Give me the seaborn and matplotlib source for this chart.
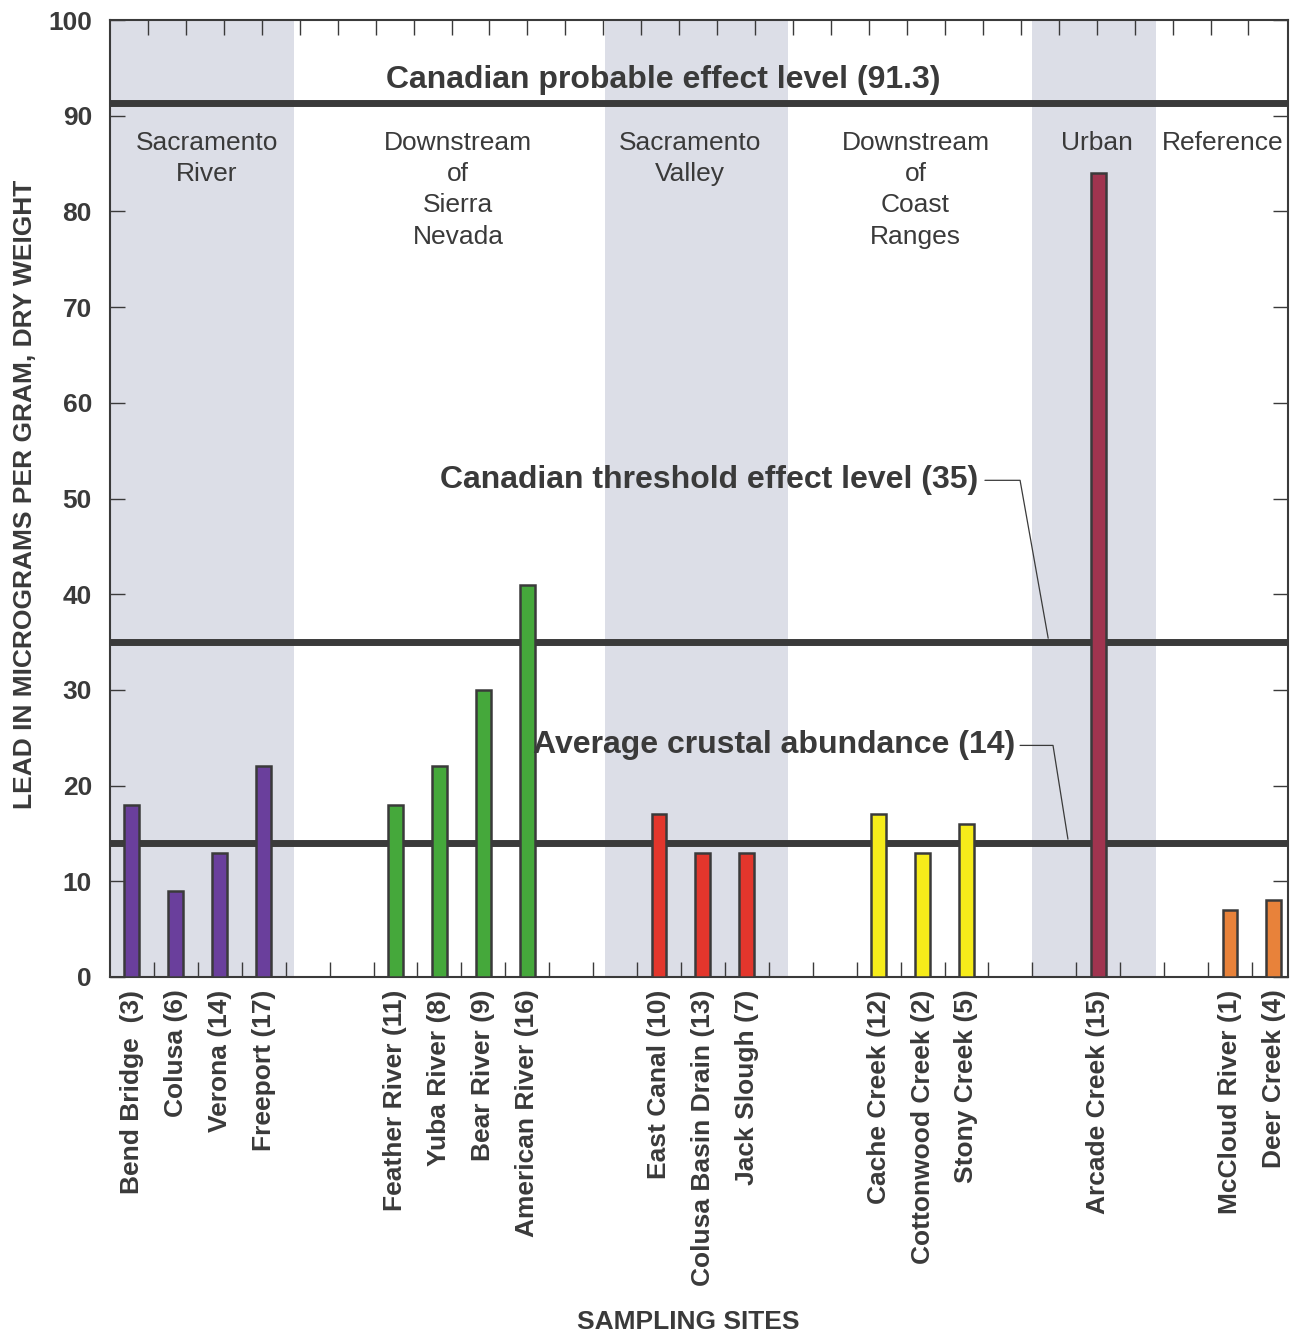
import numpy as np
import pandas as pd
import seaborn as sns
import matplotlib.pyplot as plt

# Lead in bed sediment, by sampling site
sites = ['Bend Bridge  (3)', 'Colusa (6)', 'Verona (14)', 'Freeport (17)',
         'Feather River (11)', 'Yuba River (8)', 'Bear River (9)', 'American River (16)',
         'East Canal (10)', 'Colusa Basin Drain (13)', 'Jack Slough (7)',
         'Cache Creek (12)', 'Cottonwood Creek (2)', 'Stony Creek (5)',
         'Arcade Creek (15)',
         'McCloud River (1)', 'Deer Creek (4)']
lead = [18, 9, 13, 22,
        18, 22, 30, 41,
        17, 13, 13,
        17, 13, 16,
        84,
        7, 8]

group_names = ['Sacramento River', 'Downstream of Sierra Nevada', 'Sacramento Valley',
               'Downstream of Coast Ranges', 'Urban', 'Reference']
group_titles = ['Sacramento\nRiver', 'Downstream\nof\nSierra\nNevada', 'Sacramento\nValley',
                'Downstream\nof\nCoast\nRanges', 'Urban', 'Reference']
group_sizes = [4, 4, 3, 3, 1, 2]
group_colors = ['#6a3f9c', '#45a83b', '#e3362c', '#f6ec1a', '#a0344f', '#e8823a']

guide_values = [91.3, 35, 14]
guide_labels = ['Canadian probable effect level (91.3)',
                'Canadian threshold effect level (35)',
                'Average crustal abundance (14)']

# layout: first slot of each group along the axis, shaded groups
group_start = [0, 6, 12, 17, 22, 25]
group_title_x = [1.7, 7.43, 12.7, 17.84, 21.98, 24.84]
shade_spans = [(-0.5, 3.7), (10.77, 14.93), (20.5, 23.32)]

site_group = []
positions = []
for g, n in enumerate(group_sizes):
    site_group += [group_names[g]] * n
    positions += [group_start[g] + i for i in range(n)]

df = pd.DataFrame({'site': sites, 'lead': lead, 'group': site_group, 'pos': positions})

sns.set_theme(style='ticks')
plt.rcParams['font.family'] = ['Liberation Sans', 'DejaVu Sans']
ink = '#3a3a3a'

fig = plt.figure(figsize=(12.9, 13.34), dpi=100)
ax = fig.add_axes([110 / 1290, 1 - 977 / 1334, 1178 / 1290, 957 / 1334])

for x0, x1 in shade_spans:
    ax.axvspan(x0, x1, color='#dcdee7', lw=0, zorder=0)

for v in guide_values:
    ax.axhline(v, color=ink, lw=5, zorder=1)

sns.barplot(data=df, x='pos', y='lead', hue='group', hue_order=group_names,
            palette=dict(zip(group_names, group_colors)), saturation=1, native_scale=True,
            dodge=False, width=0.34, errorbar=None, edgecolor=ink, linewidth=1.8,
            legend=False, ax=ax, zorder=3)

ax.set_xlim(-0.5, 26.32)
ax.set_ylim(0, 100)

# x axis: site names under bars, small ticks between slots
ax.set_xticks(positions)
ax.set_xticklabels(sites, rotation=90, fontsize=19, fontweight='bold', color=ink)
ax.set_xticks(np.arange(0.5, 26, 1), minor=True)
ax.tick_params(axis='x', which='major', length=0, pad=9)
ax.tick_params(axis='x', which='minor', direction='in', length=11, width=1, color=ink, bottom=True)

top = ax.secondary_xaxis('top')
top.set_xticks(-0.5 + 0.864 * np.arange(1, 31))
top.set_xticklabels([])
top.tick_params(direction='in', length=11, width=1, color=ink)
top.spines['top'].set_visible(False)

ax.set_yticks(range(0, 101, 10))
ax.tick_params(axis='y', direction='in', length=11, width=1, color=ink,
               left=True, right=True, labelsize=19, labelcolor=ink, pad=13)
for t in ax.get_yticklabels():
    t.set_fontweight('bold')

for s in ax.spines.values():
    s.set_color(ink)
    s.set_linewidth(1.5)

ax.set_xlabel('SAMPLING SITES', fontsize=19, fontweight='bold', color=ink)
ax.xaxis.set_label_coords(0.4907, -0.348)
ax.set_ylabel('LEAD IN MICROGRAMS PER GRAM, DRY WEIGHT', fontsize=19, fontweight='bold', color=ink)
ax.yaxis.set_label_coords(-0.062, 0.504)

# group headings
for gx, title in zip(group_title_x, group_titles):
    ax.text(gx, 88.4, title, ha='center', va='top', fontsize=19, color=ink, linespacing=1.38)

# guide line labels
ax.text(12.09, 93.7, guide_labels[0], ha='center', va='center', fontsize=23,
        fontweight='bold', color=ink)
ax.text(19.26, 51.9, guide_labels[1], ha='right', va='center', fontsize=23,
        fontweight='bold', color=ink)
ax.text(20.11, 24.2, guide_labels[2], ha='right', va='center', fontsize=23,
        fontweight='bold', color=ink)
ax.plot([19.42, 20.22, 20.86], [51.9, 51.9, guide_values[1] + 0.4], color=ink, lw=0.9, zorder=2)
ax.plot([20.22, 20.97, 21.31], [24.2, 24.2, guide_values[2] + 0.4], color=ink, lw=0.9, zorder=2)

fig.savefig('out.png', dpi=100)
